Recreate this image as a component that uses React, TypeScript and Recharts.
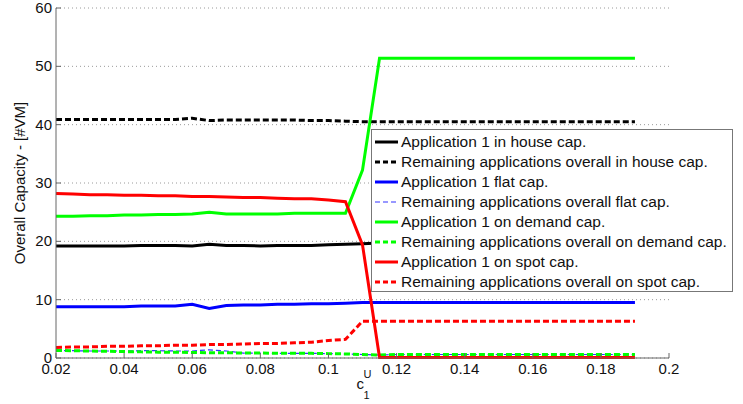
import React from 'react';
import { LineChart, Line, XAxis, YAxis, CartesianGrid } from 'recharts';

// Unit price ratio c1^U sampled every 0.005
const capRatio = [
  0.02, 0.025, 0.03, 0.035, 0.04, 0.045, 0.05, 0.055, 0.06, 0.065, 0.07, 0.075,
  0.08, 0.085, 0.09, 0.095, 0.1, 0.105, 0.11, 0.115, 0.12, 0.125, 0.13, 0.135,
  0.14, 0.145, 0.15, 0.155, 0.16, 0.165, 0.17, 0.175, 0.18, 0.185, 0.19,
];

const app1InHouse = [
  19.2, 19.2, 19.2, 19.2, 19.2, 19.3, 19.3, 19.3, 19.2, 19.5, 19.3, 19.3, 19.2, 19.3, 19.3, 19.3, 19.4, 19.5,
  19.6, 19.7, 19.7, 19.7, 19.7, 19.7, 19.7, 19.7, 19.7, 19.7, 19.7, 19.7, 19.7, 19.7, 19.7, 19.7, 19.7,
];
const restInHouse = [
  40.9, 40.9, 40.9, 40.9, 40.9, 40.9, 40.9, 40.9, 41.1, 40.7, 40.8, 40.8, 40.8, 40.8, 40.8, 40.7, 40.7, 40.6,
  40.5, 40.5, 40.5, 40.5, 40.5, 40.5, 40.5, 40.5, 40.5, 40.5, 40.5, 40.5, 40.5, 40.5, 40.5, 40.5, 40.5,
];
const app1Flat = [
  8.8, 8.8, 8.8, 8.8, 8.8, 8.9, 8.9, 8.9, 9.2, 8.5, 9.0, 9.1, 9.1, 9.2, 9.2, 9.3, 9.3, 9.4,
  9.5, 9.5, 9.5, 9.5, 9.5, 9.5, 9.5, 9.5, 9.5, 9.5, 9.5, 9.5, 9.5, 9.5, 9.5, 9.5, 9.5,
];
const restFlat = [
  1.3, 1.25, 1.2, 1.2, 1.2, 1.25, 1.25, 1.2, 1.2, 1.4, 1.2, 0.85, 0.85, 0.8, 0.8, 0.8, 0.75, 0.7,
  0.6, 0.5, 0.6, 0.6, 0.6, 0.6, 0.6, 0.6, 0.6, 0.6, 0.6, 0.6, 0.6, 0.6, 0.6, 0.6, 0.6,
];
const app1OnDemand = [
  24.3, 24.3, 24.4, 24.4, 24.5, 24.5, 24.6, 24.6, 24.7, 25.0, 24.7, 24.7, 24.7, 24.7, 24.8, 24.8, 24.8, 24.8,
  32.2, 51.4, 51.4, 51.4, 51.4, 51.4, 51.4, 51.4, 51.4, 51.4, 51.4, 51.4, 51.4, 51.4, 51.4, 51.4, 51.4,
];
const restOnDemand = [
  1.3, 1.25, 1.2, 1.15, 1.1, 1.05, 1.0, 1.0, 0.95, 0.9, 0.9, 0.85, 0.85, 0.8, 0.8, 0.8, 0.75, 0.7,
  0.6, 0.5, 0.6, 0.6, 0.6, 0.6, 0.6, 0.6, 0.6, 0.6, 0.6, 0.6, 0.6, 0.6, 0.6, 0.6, 0.6,
];
const app1OnSpot = [
  28.2, 28.1, 28.0, 28.0, 27.9, 27.9, 27.8, 27.8, 27.7, 27.7, 27.6, 27.5, 27.5, 27.4, 27.3, 27.3, 27.1, 26.8,
  19.4, 0.1, 0.1, 0.1, 0.1, 0.1, 0.1, 0.1, 0.1, 0.1, 0.1, 0.1, 0.1, 0.1, 0.1, 0.1, 0.1,
];
const restOnSpot = [
  1.8, 1.9, 1.9, 2.0, 2.0, 2.1, 2.1, 2.2, 2.2, 2.3, 2.3, 2.4, 2.5, 2.5, 2.6, 2.7, 3.0, 3.2,
  6.3, 6.3, 6.3, 6.3, 6.3, 6.3, 6.3, 6.3, 6.3, 6.3, 6.3, 6.3, 6.3, 6.3, 6.3, 6.3, 6.3,
];

const xTicks = [0.02, 0.04, 0.06, 0.08, 0.1, 0.12, 0.14, 0.16, 0.18, 0.2];
const yTicks = [0, 10, 20, 30, 40, 50, 60];

type Series = { key: string; name: string; values: number[]; color: string; width: number; dash?: string };

const series: Series[] = [
  { key: 'a1House', name: 'Application 1 in house cap.', values: app1InHouse, color: '#000000', width: 3 },
  { key: 'rHouse', name: 'Remaining applications overall in house cap.', values: restInHouse, color: '#000000', width: 3, dash: '6 3' },
  { key: 'a1Flat', name: 'Application 1 flat cap.', values: app1Flat, color: '#0000ff', width: 3 },
  { key: 'rFlat', name: 'Remaining applications overall flat cap.', values: restFlat, color: '#3333ff', width: 1.2, dash: '5 3' },
  { key: 'a1Demand', name: 'Application 1 on demand cap.', values: app1OnDemand, color: '#00ff00', width: 3 },
  { key: 'rDemand', name: 'Remaining applications overall on demand cap.', values: restOnDemand, color: '#00ff00', width: 3, dash: '6 3' },
  { key: 'a1Spot', name: 'Application 1 on spot cap.', values: app1OnSpot, color: '#ff0000', width: 3 },
  { key: 'rSpot', name: 'Remaining applications overall on spot cap.', values: restOnSpot, color: '#ff0000', width: 3, dash: '6 3' },
];

const rows = capRatio.map((x, i) => {
  const row: Record<string, number> = { x };
  series.forEach((s) => {
    row[s.key] = s.values[i];
  });
  return row;
});

const FONT = '"Liberation Sans", Arial, Helvetica, sans-serif';
const AXIS_COLOR = '#666666';
const TICK_LEN = 5;

const XTick = (props: any) => {
  const { x, y, payload } = props;
  return (
    <g>
      <line x1={x} y1={y} x2={x} y2={y - TICK_LEN} stroke={AXIS_COLOR} strokeWidth={1} />
      <text x={x} y={y + 16} textAnchor="middle" fontSize={15} fontFamily={FONT} fill="#111">
        {String(payload.value)}
      </text>
    </g>
  );
};

const YTick = (props: any) => {
  const { x, y, payload } = props;
  return (
    <g>
      <line x1={x} y1={y} x2={x + TICK_LEN} y2={y} stroke={AXIS_COLOR} strokeWidth={1} />
      <text x={x - 4} y={y + 5} textAnchor="end" fontSize={15} fontFamily={FONT} fill="#111">
        {String(payload.value)}
      </text>
    </g>
  );
};

const XLabel = (props: any) => {
  const vb = props.viewBox || { x: 0, y: 0, width: 0 };
  const cx = vb.x + vb.width / 2;
  const top = vb.y;
  return (
    <g fontFamily={FONT} fill="#111">
      <text x={cx - 6} y={top + 31} fontSize={15}>c</text>
      <text x={cx + 1} y={top + 20} fontSize={11}>U</text>
      <text x={cx + 1} y={top + 41} fontSize={11}>1</text>
    </g>
  );
};

const LegendBox = () => (
  <div
    style={{
      position: 'absolute',
      left: 371,
      top: 129,
      width: 362,
      height: 163,
      background: '#ffffff',
      border: '1px solid #777777',
      boxSizing: 'border-box',
      paddingTop: 2,
      fontFamily: FONT,
      fontSize: 15.5,
      color: '#111',
    }}
  >
    {series.map((s) => (
      <div key={s.key} style={{ display: 'flex', alignItems: 'center', height: 20, whiteSpace: 'nowrap' }}>
        <svg width={29} height={20} style={{ flex: 'none' }}>
          <line
            x1={3}
            y1={10}
            x2={26}
            y2={10}
            stroke={s.color}
            strokeWidth={s.width}
            strokeDasharray={s.dash ? '5 3' : undefined}
          />
        </svg>
        <span>{s.name}</span>
      </div>
    ))}
  </div>
);

export default function App() {
  return (
    <div style={{ position: 'absolute', left: 0, top: 0, width: 743, height: 404, background: '#fff' }}>
      <LineChart width={743} height={404} data={rows} margin={{ top: 8, right: 74, bottom: 0, left: 0 }}>
        <CartesianGrid horizontal vertical={false} stroke="#9a9a9a" strokeDasharray="1 3" />
        <XAxis
          dataKey="x"
          type="number"
          domain={[0.02, 0.2]}
          ticks={xTicks}
          interval={0}
          height={46}
          tickSize={0}
          tickMargin={0}
          tickLine={false}
          axisLine={{ stroke: AXIS_COLOR, strokeWidth: 1 }}
          tick={<XTick />}
          label={<XLabel />}
        />
        <YAxis
          type="number"
          domain={[0, 60]}
          ticks={yTicks}
          interval={0}
          width={56}
          tickSize={0}
          tickMargin={0}
          tickLine={false}
          axisLine={{ stroke: AXIS_COLOR, strokeWidth: 1 }}
          tick={<YTick />}
          label={{
            value: 'Overall Capacity - [#VM]',
            angle: -90,
            position: 'insideLeft',
            offset: 0,
            dx: 20,
            style: { fontFamily: FONT, fontSize: 15, fill: '#111', textAnchor: 'middle' },
          }}
        />
        {series.map((s) => (
          <Line
            key={s.key}
            dataKey={s.key}
            name={s.name}
            type="linear"
            stroke={s.color}
            strokeWidth={s.width}
            strokeDasharray={s.dash}
            dot={false}
            activeDot={false}
            isAnimationActive={false}
          />
        ))}
      </LineChart>
      <LegendBox />
    </div>
  );
}
